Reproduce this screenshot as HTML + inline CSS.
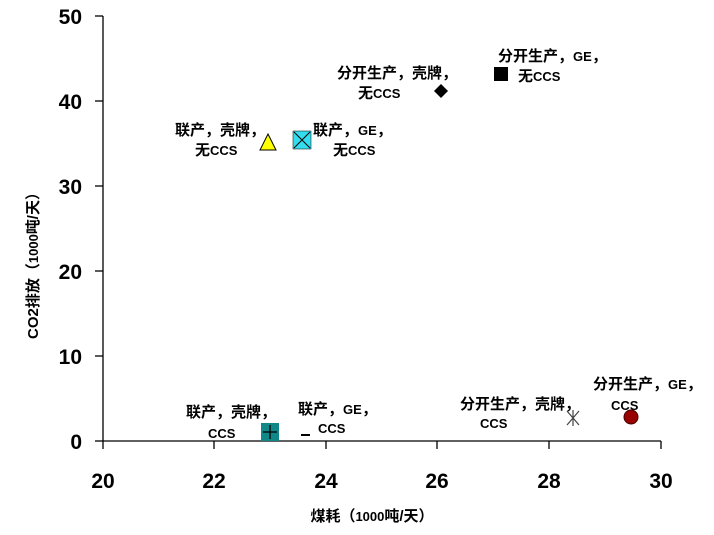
<!DOCTYPE html>
<html><head><meta charset="utf-8"><style>
html,body{margin:0;padding:0;background:#fff}
svg{display:block}
text{font-family:"Liberation Sans","Noto Sans CJK SC","WenQuanYi Zen Hei",sans-serif;fill:#000}
.t{font-size:21px;font-weight:bold}
.l{font-size:15px;font-weight:bold}
.s{font-size:13px}
</style></head><body>
<svg width="714" height="535" viewBox="0 0 714 535">
<g stroke="#000" stroke-width="1.3" fill="none">
<line x1="103" y1="16" x2="103" y2="441"/>
<line x1="103" y1="441" x2="661" y2="441"/>
<line x1="95" y1="16" x2="103" y2="16"/>
<line x1="95" y1="101" x2="103" y2="101"/>
<line x1="95" y1="186" x2="103" y2="186"/>
<line x1="95" y1="271" x2="103" y2="271"/>
<line x1="95" y1="356" x2="103" y2="356"/>
<line x1="95" y1="441" x2="103" y2="441"/>
<line x1="103" y1="441" x2="103" y2="449"/>
<line x1="214" y1="441" x2="214" y2="449"/>
<line x1="326" y1="441" x2="326" y2="449"/>
<line x1="437" y1="441" x2="437" y2="449"/>
<line x1="549" y1="441" x2="549" y2="449"/>
<line x1="661" y1="441" x2="661" y2="449"/>
</g>
<g text-anchor="end">
<text x="82" y="24" class="t">50</text>
<text x="82" y="109" class="t">40</text>
<text x="82" y="194" class="t">30</text>
<text x="82" y="279" class="t">20</text>
<text x="82" y="364" class="t">10</text>
<text x="82" y="449" class="t">0</text>
</g>
<g text-anchor="middle">
<text x="103" y="488" class="t">20</text>
<text x="214" y="488" class="t">22</text>
<text x="326" y="488" class="t">24</text>
<text x="437" y="488" class="t">26</text>
<text x="549" y="488" class="t">28</text>
<text x="661" y="488" class="t">30</text>
</g>
<text x="372" y="521" text-anchor="middle" class="l">煤耗（<tspan class="s">1000</tspan>吨/天）</text>
<text transform="translate(38,262) rotate(-90)" text-anchor="middle" class="l">CO2排放（<tspan class="s">1000</tspan>吨/天）</text>

<polygon points="268,134 276,150 260,150" fill="#ffff00" stroke="#000" stroke-width="1"/>
<rect x="293" y="131" width="18" height="18" fill="#33ddee" stroke="#000" stroke-width="0.5"/>
<path d="M294,132 L310,148 M310,132 L294,148" stroke="#000" stroke-width="1"/>
<polygon points="441,84 448,91 441,98 434,91" fill="#000"/>
<rect x="494" y="67" width="14" height="14" fill="#000"/>
<rect x="261" y="423" width="18" height="18" fill="#118888"/>
<path d="M270,425 V439 M263,432 H277" stroke="#000" stroke-width="1.3"/>
<path d="M301,435 H310" stroke="#000" stroke-width="2"/>
<path d="M567,411 L579,425 M579,411 L567,425 M573,410 V426" stroke="#444" stroke-width="1.2"/>
<circle cx="631" cy="417" r="7" fill="#990000" stroke="#400" stroke-width="1"/>

<text x="337" y="78" class="l">分开生产，壳牌，</text>
<text x="358" y="98" class="l">无<tspan class="s">CCS</tspan></text>
<text x="498" y="61" class="l">分开生产，<tspan class="s">GE</tspan>，</text>
<text x="518" y="81" class="l">无<tspan class="s">CCS</tspan></text>
<text x="175" y="135" class="l">联产，壳牌，</text>
<text x="195" y="155" class="l">无<tspan class="s">CCS</tspan></text>
<text x="313" y="135" class="l">联产，<tspan class="s">GE</tspan>，</text>
<text x="333" y="155" class="l">无<tspan class="s">CCS</tspan></text>
<text x="186" y="417" class="l">联产，壳牌，</text>
<text x="208" y="438" class="l"><tspan class="s">CCS</tspan></text>
<text x="298" y="414" class="l">联产，<tspan class="s">GE</tspan>，</text>
<text x="318" y="433" class="l"><tspan class="s">CCS</tspan></text>
<text x="460" y="409" class="l">分开生产，壳牌，</text>
<text x="480" y="428" class="l"><tspan class="s">CCS</tspan></text>
<text x="593" y="389" class="l">分开生产，<tspan class="s">GE</tspan>，</text>
<text x="611" y="410" class="l"><tspan class="s">CCS</tspan></text>
</svg>
</body></html>
